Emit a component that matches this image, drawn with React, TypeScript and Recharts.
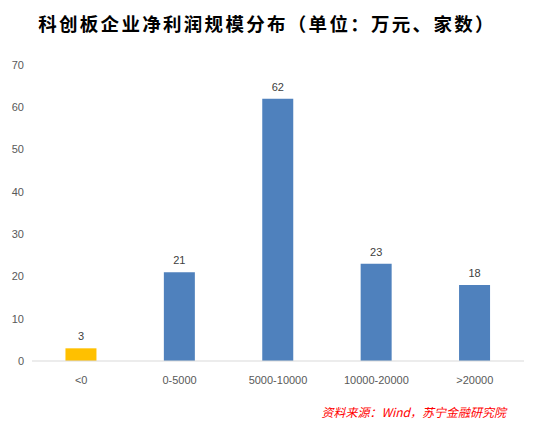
import { BarChart, Bar, XAxis, YAxis, Cell, LabelList } from 'recharts';

const categories = ['<0', '0-5000', '5000-10000', '10000-20000', '>20000'];
const counts = [3, 21, 62, 23, 18];
const barColors = ['#FFC000', '#4F81BD', '#4F81BD', '#4F81BD', '#4F81BD'];
const yTicks = [0, 10, 20, 30, 40, 50, 60, 70];

const data = categories.map((name, i) => ({ name, value: counts[i] }));

const tickStyle = { fontSize: 11, fill: '#595959', fontFamily: 'Liberation Sans, Arial, sans-serif' };

export default function App() {
  return (
    <div style={{ position: 'absolute', left: 0, top: 0, width: 534, height: 424, background: '#fff' }}>
      <div
        style={{
          position: 'absolute',
          left: 0,
          top: 10,
          width: 534,
          textAlign: 'center',
          fontFamily: 'Noto Sans CJK SC, sans-serif',
          fontWeight: 'bold',
          fontSize: 18.5,
          letterSpacing: 2.3,
          color: '#000',
        }}
      >
        科创板企业净利润规模分布（单位：万元、家数）
      </div>
      <BarChart
        width={534}
        height={424}
        data={data}
        margin={{ top: 65, right: 10, bottom: 33, left: 0 }}
        barCategoryGap="34%"
      >
        <XAxis
          dataKey="name"
          height={30}
          tick={tickStyle}
          tickLine={false}
          axisLine={{ stroke: '#D9D9D9' }}
          tickMargin={9}
          interval={0}
        />
        <YAxis
          width={32}
          domain={[0, 70]}
          ticks={yTicks}
          tick={tickStyle}
          tickLine={false}
          axisLine={false}
          tickMargin={2}
        />
        <Bar dataKey="value" isAnimationActive={false}>
          {data.map((d, i) => (
            <Cell key={d.name} fill={barColors[i]} />
          ))}
          <LabelList dataKey="value" position="top" offset={8} style={{ fontSize: 11, fill: '#404040', fontFamily: 'Liberation Sans, Arial, sans-serif' }} />
        </Bar>
      </BarChart>
      <div
        style={{
          position: 'absolute',
          left: 320,
          top: 403,
          width: 186,
          textAlign: 'right',
          fontFamily: 'Noto Sans CJK SC, sans-serif',
          fontStyle: 'italic',
          fontSize: 12,
          color: '#FF0000',
          whiteSpace: 'nowrap',
        }}
      >
        资料来源：Wind，苏宁金融研究院
      </div>
    </div>
  );
}
